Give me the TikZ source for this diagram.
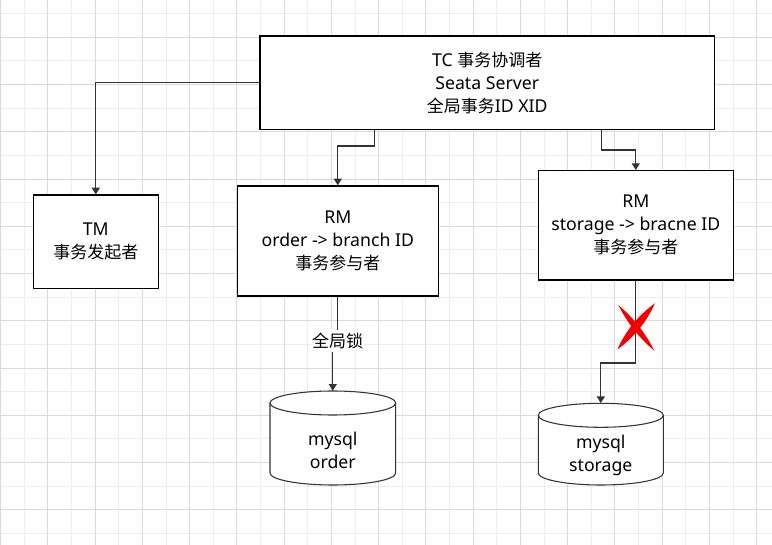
\documentclass[tikz,border=0pt]{standalone}
\usepackage{fontspec}
\setmainfont{Noto Sans}[Scale=1.04]
\newfontfamily\cjk{Noto Sans CJK SC}
\usetikzlibrary{arrows.meta}
\definecolor{gmaj}{RGB}{218,218,218}
\definecolor{gmin}{RGB}{237,237,237}
\definecolor{connc}{RGB}{51,51,51}
\definecolor{xred}{RGB}{245,0,0}
\newcommand\dbcyl[4]{%
  \pgfmathsetmacro\cx{(#1+#3)/2}%
  \pgfmathsetmacro\rx{(#3-#1)/2}%
  \pgfmathsetmacro\yt{#2+12}%
  \pgfmathsetmacro\yb{#4-12}%
  \pgfmathsetmacro\kx{0.5523*\rx}%
  \pgfmathsetmacro\ky{0.5523*12}%
  \fill[white] (#1,\yt) -- (#1,\yb) .. controls (#1,\yb+\ky) and (\cx-\kx,#4) .. (\cx,#4)
     .. controls (\cx+\kx,#4) and (#3,\yb+\ky) .. (#3,\yb) -- (#3,\yt)
     .. controls (#3,\yt-\ky) and (\cx+\kx,#2) .. (\cx,#2)
     .. controls (\cx-\kx,#2) and (#1,\yt-\ky) .. (#1,\yt) -- cycle;
  \draw[dbline] (#1,\yt) -- (#1,\yb) .. controls (#1,\yb+\ky) and (\cx-\kx,#4) .. (\cx,#4)
     .. controls (\cx+\kx,#4) and (#3,\yb+\ky) .. (#3,\yb) -- (#3,\yt);
  \draw[dbline] (#1,\yt) .. controls (#1,\yt-\ky) and (\cx-\kx,#2) .. (\cx,#2)
     .. controls (\cx+\kx,#2) and (#3,\yt-\ky) .. (#3,\yt)
     .. controls (#3,\yt+\ky) and (\cx+\kx,#2+24) .. (\cx,#2+24)
     .. controls (\cx-\kx,#2+24) and (#1,\yt+\ky) .. (#1,\yt) -- cycle;
}
\begin{document}
\begin{tikzpicture}[x=0.75pt,y=-0.75pt,
  txt/.style={inner sep=0pt, align=center, text=black, font=\fontsize{12.75pt}{17.25pt}\selectfont},
  box/.style={txt, draw=black, line width=1pt, fill=white},
  sz/.style 2 args={minimum width={#1*0.75pt}, minimum height={#2*0.75pt}},
  conn/.style={draw=connc, line width=0.8pt, -{Triangle[length=5pt,width=6pt]}},
  dbline/.style={draw=connc, line width=0.8pt},
  lbl/.style={txt, fill=white, inner xsep=1pt, inner ysep=2pt}
]
\useasboundingbox (0,0) rectangle (772,545);
\fill[white] (0,0) rectangle (772,545);
% grid
\foreach \i in {0,...,32}{
  \pgfmathsetmacro\xx{0.7+23.625*\i}
  \ifodd\i
    \draw[gmin, line width=0.75pt] (\xx,0) -- (\xx,545);
  \fi
}
\foreach \i in {0,...,22}{
  \pgfmathsetmacro\yy{13.7+23.625*\i}
  \ifodd\i\else
    \draw[gmin, line width=0.75pt] (0,\yy) -- (772,\yy);
  \fi
}
\foreach \i in {0,...,32}{
  \pgfmathsetmacro\xx{0.7+23.625*\i}
  \ifodd\i\else
    \draw[gmaj, line width=0.75pt] (\xx,0) -- (\xx,545);
  \fi
}
\foreach \i in {0,...,22}{
  \pgfmathsetmacro\yy{13.7+23.625*\i}
  \ifodd\i
    \draw[gmaj, line width=0.75pt] (0,\yy) -- (772,\yy);
  \fi
}

% boxes
\node[box, sz={454.3}{93.3}] (TC) at (487.2,82.7)
  {TC {\cjk 事务协调者}\\Seata Server\\{\cjk 全局事务}ID XID};
\node[box, sz={125}{93.3}] (TM) at (95.8,241.7) {TM\\{\cjk 事务发起者}};
\node[box, sz={201}{110}] (RMo) at (337.8,241) {RM\\order -> branch ID\\{\cjk 事务参与者}};
\node[box, sz={195}{109.3}] (RMs) at (635.8,225.3) {RM\\storage -> bracne ID\\{\cjk 事务参与者}};

% databases
\dbcyl{270}{391}{395.7}{485}
\dbcyl{538.3}{403.3}{663.3}{485}
\node[inner sep=0pt, sz={125.7}{94}] (DBo) at (332.8,438) {};
\node[inner sep=0pt, sz={125}{81.7}] (DBs) at (600.8,444.2) {};
\node[txt] (DBoT) at (332.8,450.5) {mysql\\order};
\node[txt] (DBsT) at (600.8,455) {mysql\\storage};

% connector bends
\coordinate (b1) at (374.3,146);
\coordinate (b2) at (601.7,150);
\coordinate (b3) at (600.8,363);
\coordinate (b4) at (332.8,341);

\draw[conn] (TC.west) -| (TM.north);
\draw[conn] (TC.south -| b1) -- (b1) -| (RMo.north);
\draw[conn] (TC.south -| b2) -- (b2) -| (RMs.north);
\draw[conn] (RMs.south) |- (b3) -- (DBs.north);
\draw[conn] (RMo.south) |- (b4) -- (DBo.north);
\node[lbl] (lock) at (337.5,341) {\cjk 全局锁};

% red cross
\fill[xred] (655,303.3) .. controls (646.56,322.07) and (634.0,337.47) .. (617.3,349.5)
   .. controls (625.74,330.73) and (638.3,315.33) .. (655,303.3) -- cycle;
\fill[xred] (618.3,305) .. controls (633.44,317.76) and (645.44,333.0) .. (654.3,350.7)
   .. controls (639.16,337.94) and (627.16,322.7) .. (618.3,305) -- cycle;
\end{tikzpicture}
\end{document}
